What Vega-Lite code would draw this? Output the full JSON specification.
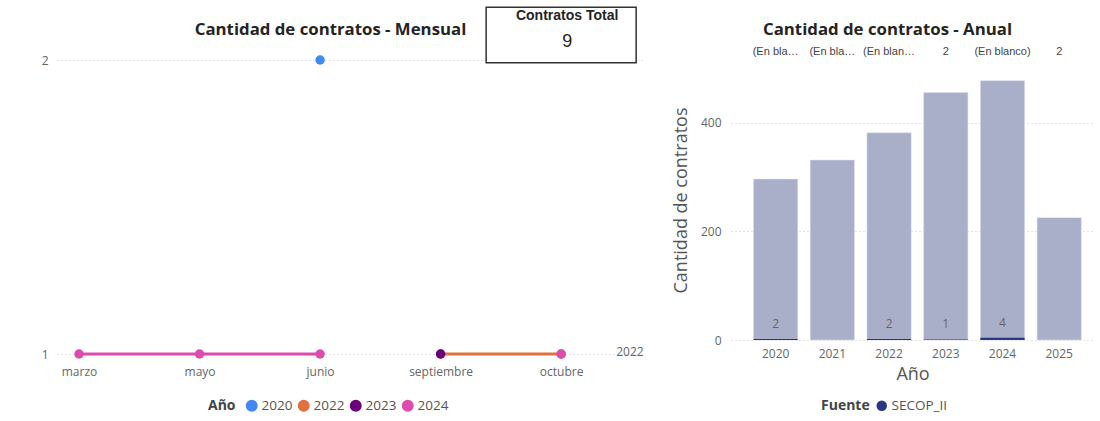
{
  "$schema": "https://vega.github.io/schema/vega-lite/v6.json",
  "background": "white",
  "padding": {"left": 41, "top": 4, "right": 5, "bottom": 5},
  "bounds": "flush",
  "spacing": 87,
  "resolve": {"scale": {"color": "independent"}, "legend": {"color": "independent"}},
  "config": {
    "font": "Open Sans",
    "view": {"stroke": null},
    "title": {"font": "Open Sans", "fontSize": 16.8, "fontWeight": "bold", "color": "#252423", "anchor": "middle", "frame": "group", "baseline": "middle"},
    "axis": {"labelFont": "Open Sans", "labelFontSize": 12, "labelColor": "#666666", "titleFont": "Open Sans", "titleFontWeight": "normal", "titleFontSize": 18, "titleColor": "#555555", "domain": false, "ticks": false, "gridColor": "#c8c8c8", "gridDash": [1, 3]},
    "legend": {"labelFont": "Open Sans", "labelFontSize": 13.5, "labelColor": "#555555", "titleFont": "Open Sans", "titleFontSize": 14, "titleFontWeight": "bold", "titleColor": "#444444", "titleOrient": "left", "symbolType": "circle", "symbolSize": 110, "orient": "none", "direction": "horizontal", "columnPadding": 2, "labelOffset": 3, "symbolOffset": 0}
  },
  "datasets": {
    "mensual": [
      {"mes": "septiembre", "orden": 9, "anio": "2022", "contratos": 1},
      {"mes": "octubre", "orden": 10, "anio": "2022", "contratos": 1},
      {"mes": "junio", "orden": 6, "anio": "2020", "contratos": 2},
      {"mes": "septiembre", "orden": 9, "anio": "2023", "contratos": 1},
      {"mes": "marzo", "orden": 3, "anio": "2024", "contratos": 1},
      {"mes": "mayo", "orden": 5, "anio": "2024", "contratos": 1},
      {"mes": "junio", "orden": 6, "anio": "2024", "contratos": 1},
      {"mes": "septiembre", "orden": 9, "anio": "2024", "contratos": null},
      {"mes": "octubre", "orden": 10, "anio": "2024", "contratos": 1}
    ],
    "anual": [
      {"anio": "2020", "total": 296, "secop": 2, "fuente": "SECOP_II", "etiqueta": "(En bla…"},
      {"anio": "2021", "total": 331, "secop": null, "fuente": "SECOP_II", "etiqueta": "(En bla…"},
      {"anio": "2022", "total": 381, "secop": 2, "fuente": "SECOP_II", "etiqueta": "(En blan…"},
      {"anio": "2023", "total": 455, "secop": 1, "fuente": "SECOP_II", "etiqueta": "2"},
      {"anio": "2024", "total": 477, "secop": 4, "fuente": "SECOP_II", "etiqueta": "(En blanco)"},
      {"anio": "2025", "total": 225, "secop": null, "fuente": "SECOP_II", "etiqueta": "2"}
    ]
  },
  "hconcat": [
    {
      "width": 587,
      "height": 294,
      "title": {"text": "Cantidad de contratos - Mensual", "dx": -20, "offset": -35},
      "data": {"name": "mensual"},
      "encoding": {
        "x": {"field": "mes", "type": "ordinal", "sort": ["marzo", "mayo", "junio", "septiembre", "octubre"], "scale": {"type": "point", "padding": 0.435, "align": 0.21}, "axis": {"title": null, "labelAngle": 0, "labelPadding": 12, "grid": false}}
      },
      "layer": [
        {
          "mark": {"type": "line", "strokeWidth": 3, "invalid": "break-paths-filter-domains"},
          "encoding": {
            "y": {"field": "contratos", "type": "quantitative", "scale": {"domain": [1, 2], "nice": false, "zero": false}, "axis": {"values": [1, 2], "format": "d", "title": null, "grid": true, "labelPadding": 9}},
            "color": {"field": "anio", "type": "nominal", "scale": {"domain": ["2020", "2022", "2023", "2024"], "range": ["#4189F5", "#E0703F", "#6B007B", "#DE4BAF"]}, "legend": {"title": "Año", "legendX": 151, "legendY": 339, "titlePadding": 9}},
            "order": {"field": "orden", "type": "quantitative"}
          }
        },
        {
          "mark": {"type": "point", "filled": true, "size": 90, "opacity": 1},
          "encoding": {
            "y": {"field": "contratos", "type": "quantitative"},
            "color": {"field": "anio", "type": "nominal"}
          }
        },
        {
          "transform": [{"filter": "datum.anio == '2022' && datum.mes == 'octubre'"}],
          "mark": {"type": "text", "align": "left", "dx": 55, "baseline": "middle", "dy": -2, "fontSize": 12, "color": "#666666"},
          "encoding": {
            "y": {"field": "contratos", "type": "quantitative"},
            "text": {"field": "anio"}
          }
        },
        {
          "transform": [{"aggregate": [{"op": "sum", "field": "contratos", "as": "total"}]}],
          "mark": {"type": "point", "shape": "M-1,-0.37H1V0.37H-1Z", "size": 22500, "filled": true, "fill": "white", "stroke": "#333333", "strokeWidth": 1.5, "opacity": 1, "dx": 6},
          "encoding": {
            "x": {"datum": "octubre"},
            "y": {"datum": 2.085}
          }
        },
        {
          "transform": [{"aggregate": [{"op": "sum", "field": "contratos", "as": "total"}]}],
          "mark": {"type": "text", "text": "Contratos Total", "font": "Liberation Sans", "fontSize": 14, "fontWeight": "bold", "color": "#252423", "dx": 6},
          "encoding": {
            "x": {"datum": "octubre"},
            "y": {"datum": 2.15}
          }
        },
        {
          "transform": [{"aggregate": [{"op": "sum", "field": "contratos", "as": "total"}]}],
          "mark": {"type": "text", "font": "Liberation Sans", "fontSize": 18, "color": "#252423", "dx": 6},
          "encoding": {
            "x": {"datum": "octubre"},
            "y": {"datum": 2.062},
            "text": {"field": "total", "type": "quantitative"}
          }
        }
      ]
    },
    {
      "width": 363,
      "height": 280,
      "title": {"text": "Cantidad de contratos - Anual", "dx": -25, "offset": 7},
      "data": {"name": "anual"},
      "encoding": {
        "x": {"field": "anio", "type": "ordinal", "scale": {"paddingInner": 0.22, "paddingOuter": 0.31, "align": 0.64}, "axis": {"title": "Año", "labelAngle": 0, "labelPadding": 8, "titlePadding": 6}}
      },
      "layer": [
        {
          "mark": {"type": "bar", "color": "#AAAFC9", "stroke": "#DDE0EC", "strokeWidth": 0.5},
          "encoding": {
            "y": {"field": "total", "type": "quantitative", "scale": {"domain": [0, 515], "nice": false}, "axis": {"values": [0, 200, 400], "title": "Cantidad de contratos", "grid": true, "labelPadding": 10, "titlePadding": 10}}
          }
        },
        {
          "mark": {"type": "bar"},
          "encoding": {
            "y": {"field": "secop", "type": "quantitative"},
            "color": {"field": "fuente", "type": "nominal", "scale": {"domain": ["SECOP_II"], "range": ["#283782"]}, "legend": {"title": "Fuente", "legendX": 90, "legendY": 339}}
          }
        },
        {
          "mark": {"type": "text", "dy": -15, "fontSize": 12, "color": "#666666"},
          "encoding": {
            "y": {"field": "secop", "type": "quantitative"},
            "text": {"field": "secop", "type": "quantitative"}
          }
        },
        {
          "mark": {"type": "text", "font": "Liberation Sans", "fontSize": 11, "color": "#444444"},
          "encoding": {
            "y": {"datum": 530},
            "text": {"field": "etiqueta"}
          }
        }
      ]
    }
  ]
}
